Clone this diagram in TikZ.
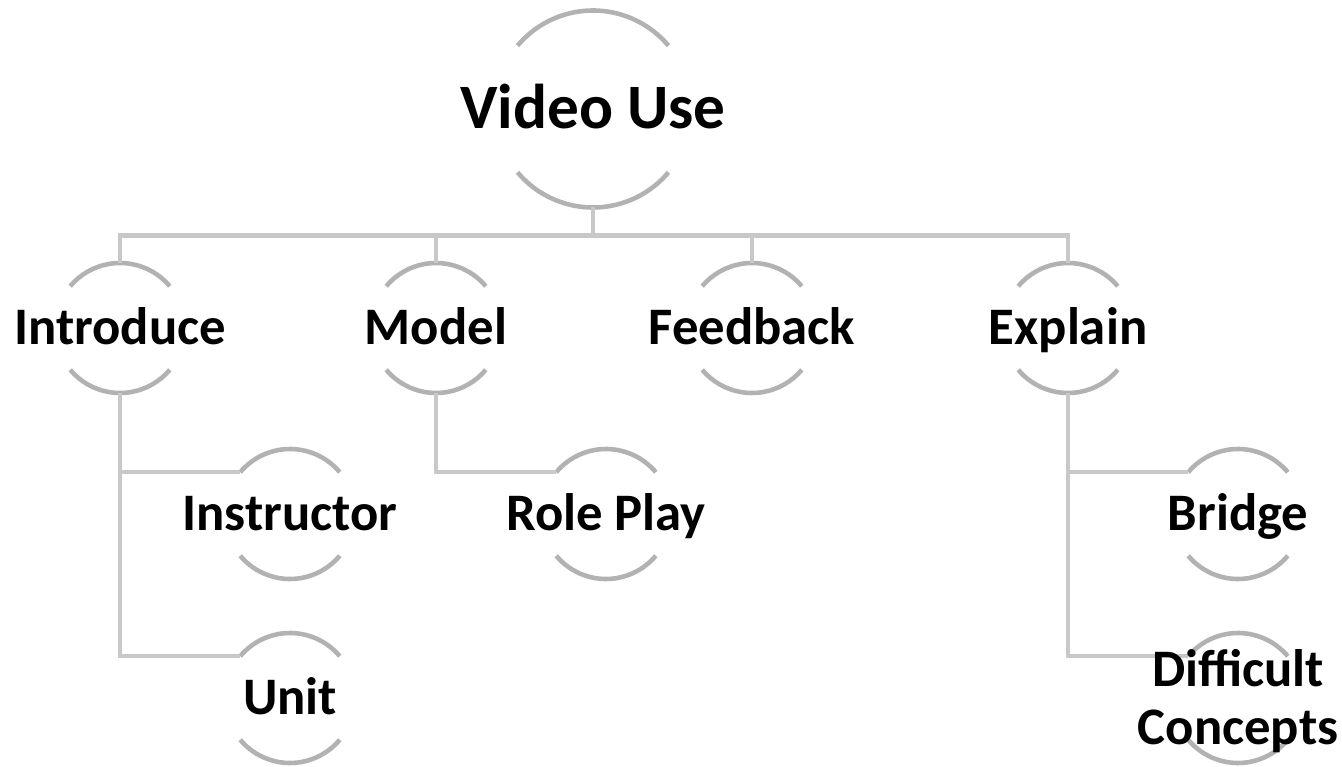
\documentclass[tikz,border=0pt]{standalone}
\usepackage{fontspec}
\setmainfont{Carlito}
\definecolor{arcgray}{RGB}{178,178,178}
\definecolor{linkgray}{RGB}{200,200,200}
\tikzset{
	ring/.style={circle, minimum size=2.6cm, inner sep=0pt, outer sep=0pt},
	bigring/.style={ring, minimum size=3.94cm},
	caption/.style={font=\bfseries\fontsize{30}{33}\selectfont, inner sep=0pt},
	oneline/.style={caption, text height=19pt, text depth=0pt},
	link/.style={linkgray, line width=2.4pt},
	rim/.style={arcgray, line width=2.6pt}
}
\begin{document}
\begin{tikzpicture}
			\useasboundingbox (0,0) rectangle (26.84,15.32);
			\node[bigring] (vid) at (11.86,13.14) {};
			\node[ring] (intro) at (2.40,8.76) {};
			\node[ring] (model) at (8.72,8.76) {};
			\node[ring] (feed) at (15.04,8.76) {};
			\node[ring] (expl) at (21.36,8.76) {};
			\node[ring] (instr) at (5.80,5.04) {};
			\node[ring] (unit) at (5.80,1.36) {};
			\node[ring] (role) at (12.12,5.04) {};
			\node[ring] (bridge) at (24.76,5.04) {};
			\node[ring] (diff) at (24.76,1.36) {};
			\foreach \n in {intro,model,feed,expl,instr,unit,role,bridge,diff}{
				\draw[rim] (\n.40) arc[start angle=40, end angle=140, radius=1.3];
				\draw[rim] (\n.220) arc[start angle=220, end angle=320, radius=1.3];
			}
			\draw[rim] (vid.40) arc[start angle=40, end angle=140, radius=1.97];
			\draw[rim] (vid.220) arc[start angle=220, end angle=320, radius=1.97];
			\coordinate (bar) at (11.86,10.61);
			\draw[link] (vid.south)--(bar);
			\draw[link] (intro.north) |- (bar) -| (expl.north);
			\draw[link] (model.north)--(model.north |- bar);
			\draw[link] (feed.north)--(feed.north |- bar);
			\draw[link] (intro.south) |- (instr.140);
			\draw[link] (intro.south) |- (unit.140);
			\draw[link] (model.south) |- (role.140);
			\draw[link] (expl.south) |- (bridge.140);
			\draw[link] (expl.south) |- (diff.140);
			\node[oneline, font=\bfseries\fontsize{36}{40}\selectfont, text height=22.7pt] (vidtxt) at (vid) {Video Use};
			\node[oneline] (introtxt) at (intro) {Introduce};
			\node[oneline] (modeltxt) at (model) {Model};
			\node[oneline] (feedtxt) at (feed) {Feedback};
			\node[oneline] (expltxt) at (expl) {Explain};
			\node[oneline] (instrtxt) at (instr) {Instructor};
			\node[oneline] (unittxt) at (unit) {Unit};
			\node[oneline] (roletxt) at (role) {Role Play};
			\node[oneline] (bridgetxt) at (bridge) {Bridge};
			\node[caption, align=center, yshift=-2pt] (difftxt) at (diff) {Difficult\\Concepts};
		\end{tikzpicture}
\end{document}
